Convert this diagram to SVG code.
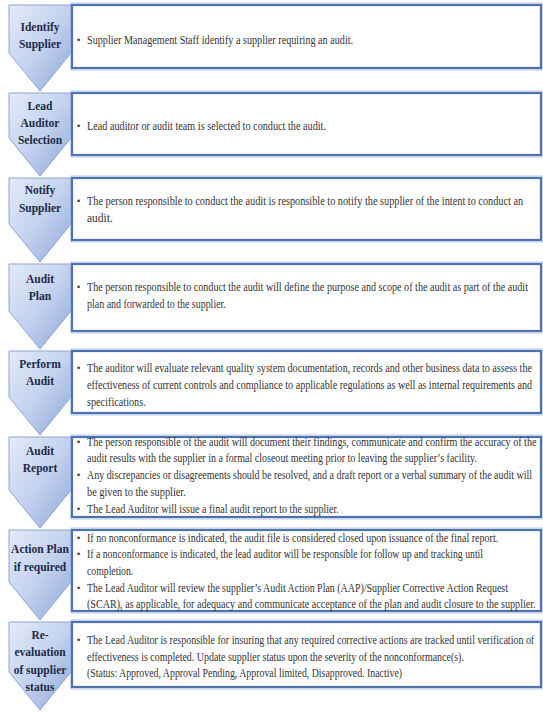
<svg xmlns="http://www.w3.org/2000/svg" width="543" height="713" viewBox="0 0 543 713">
<defs>
<linearGradient id="chev" x1="0" y1="0" x2="1" y2="1">
<stop offset="0" stop-color="#e4ebf8"/>
<stop offset="0.5" stop-color="#c3d2ee"/>
<stop offset="1" stop-color="#8ea8da"/>
</linearGradient>
<style>
.chev{fill:url(#chev);stroke:#8fa5d0;stroke-width:1}
.box{fill:#ffffff;stroke:#4e72b0;stroke-width:2.2}
.boxs{fill:none;stroke:#b4c6e6;stroke-width:1}
.lab{font-family:"Liberation Serif","Times New Roman",serif;font-weight:bold;font-size:11.5px;fill:#1e2a48;text-anchor:middle}
.txt{font-family:"Liberation Serif","Times New Roman",serif;font-size:11.5px;fill:#333333}
.bul{font-family:"Liberation Sans",Arial,sans-serif;font-size:9px;fill:#333333}
</style>
</defs>
<rect width="543" height="713" fill="#ffffff"/>
<g id="connectors"></g>

<g id="step1">
<path class="chev" d="M9,5 H71 V53 L40,91 L9,53 Z"/>
<text class="lab" x="40" y="31">Identify</text>
<text class="lab" x="40" y="48">Supplier</text>
<rect class="boxs" x="71" y="3" width="472" height="67"/>
<rect class="box" x="72" y="5" width="469" height="63"/>
<text class="bul" x="77" y="43">•</text>
<g transform="translate(87,0) scale(0.89,1)">
<text class="txt" x="0" y="44" textLength="299" lengthAdjust="spacingAndGlyphs">Supplier Management Staff identify a supplier requiring an audit.</text>
</g>
</g>

<g id="step2">
<path class="chev" d="M9,93 H71 V138 L40,176 L9,138 Z"/>
<text class="lab" x="40" y="110">Lead</text>
<text class="lab" x="40" y="127">Auditor</text>
<text class="lab" x="40" y="144">Selection</text>
<rect class="boxs" x="71" y="91" width="472" height="66"/>
<rect class="box" x="72" y="93" width="469" height="62"/>
<text class="bul" x="77" y="129">•</text>
<g transform="translate(87,0) scale(0.89,1)">
<text class="txt" x="0" y="130" textLength="268.5" lengthAdjust="spacingAndGlyphs">Lead auditor or audit team is selected to conduct the audit.</text>
</g>
</g>

<g id="step3">
<path class="chev" d="M9,178 H71 V224 L40,262 L9,224 Z"/>
<text class="lab" x="40" y="194">Notify</text>
<text class="lab" x="40" y="212">Supplier</text>
<rect class="boxs" x="71" y="176" width="472" height="66"/>
<rect class="box" x="72" y="178" width="469" height="62"/>
<text class="bul" x="77" y="204">•</text>
<g transform="translate(87,0) scale(0.89,1)">
<text class="txt" x="0" y="205" textLength="490" lengthAdjust="spacingAndGlyphs">The person responsible to conduct the audit is responsible to notify the supplier of the intent to conduct an</text>
<text class="txt" x="0" y="222" textLength="29" lengthAdjust="spacingAndGlyphs">audit.</text>
</g>
</g>

<g id="step4">
<path class="chev" d="M9,264 H71 V311 L40,349 L9,311 Z"/>
<text class="lab" x="40" y="283">Audit</text>
<text class="lab" x="40" y="300">Plan</text>
<rect class="boxs" x="71" y="262" width="472" height="71"/>
<rect class="box" x="72" y="264" width="469" height="67"/>
<text class="bul" x="77" y="290">•</text>
<g transform="translate(87,0) scale(0.89,1)">
<text class="txt" x="0" y="291" textLength="495.5" lengthAdjust="spacingAndGlyphs">The person responsible to conduct the audit will define the purpose and scope of the audit as part of the audit</text>
<text class="txt" x="0" y="308" textLength="156" lengthAdjust="spacingAndGlyphs">plan and forwarded to the supplier.</text>
</g>
</g>

<g id="step5">
<path class="chev" d="M9,351 H71 V397 L40,435 L9,397 Z"/>
<text class="lab" x="40" y="368">Perform</text>
<text class="lab" x="40" y="385">Audit</text>
<rect class="boxs" x="71" y="349" width="472" height="66"/>
<rect class="box" x="72" y="351" width="469" height="62"/>
<text class="bul" x="77" y="371">•</text>
<g transform="translate(87,0) scale(0.89,1)">
<text class="txt" x="0" y="372" textLength="500" lengthAdjust="spacingAndGlyphs">The auditor will evaluate relevant quality system documentation, records and other business data to assess the</text>
<text class="txt" x="0" y="389" textLength="500" lengthAdjust="spacingAndGlyphs">effectiveness of current controls and compliance to applicable regulations as well as internal requirements and</text>
<text class="txt" x="0" y="406" textLength="66" lengthAdjust="spacingAndGlyphs">specifications.</text>
</g>
</g>

<g id="step6">
<path class="chev" d="M9,437 H71 V490 L40,528 L9,490 Z"/>
<text class="lab" x="40" y="455">Audit</text>
<text class="lab" x="40" y="472">Report</text>
<rect class="boxs" x="71" y="435" width="472" height="84"/>
<rect class="box" x="72" y="437" width="469" height="80"/>
<text class="bul" x="77" y="445">•</text>
<text class="bul" x="77" y="478">•</text>
<text class="bul" x="77" y="512">•</text>
<g transform="translate(87,0) scale(0.89,1)">
<text class="txt" x="0" y="446" textLength="505" lengthAdjust="spacingAndGlyphs">The person responsible of the audit will document their findings, communicate and confirm the accuracy of the</text>
<text class="txt" x="0" y="462" textLength="438" lengthAdjust="spacingAndGlyphs">audit results with the supplier in a formal closeout meeting prior to leaving the supplier’s facility.</text>
<text class="txt" x="0" y="479" textLength="500" lengthAdjust="spacingAndGlyphs">Any discrepancies or disagreements should be resolved, and a draft report or a verbal summary of the audit will</text>
<text class="txt" x="0" y="496" textLength="111" lengthAdjust="spacingAndGlyphs">be given to the supplier.</text>
<text class="txt" x="0" y="513" textLength="283" lengthAdjust="spacingAndGlyphs">The Lead Auditor will issue a final audit report to the supplier.</text>
</g>
</g>

<g id="step7">
<path class="chev" d="M9,530 H71 V582 L40,620 L9,582 Z"/>
<text class="lab" x="40" y="553">Action Plan</text>
<text class="lab" x="40" y="571">if required</text>
<rect class="boxs" x="71" y="528" width="472" height="85"/>
<rect class="box" x="72" y="530" width="469" height="81"/>
<text class="bul" x="77" y="541">•</text>
<text class="bul" x="77" y="557">•</text>
<text class="bul" x="77" y="591">•</text>
<g transform="translate(87,0) scale(0.89,1)">
<text class="txt" x="0" y="542" textLength="462" lengthAdjust="spacingAndGlyphs">If no nonconformance is indicated, the audit file is considered closed upon issuance of the final report.</text>
<text class="txt" x="0" y="558" textLength="445" lengthAdjust="spacingAndGlyphs">If a nonconformance is indicated, the lead auditor will be responsible for follow up and tracking until</text>
<text class="txt" x="0" y="575" textLength="52" lengthAdjust="spacingAndGlyphs">completion.</text>
<text class="txt" x="0" y="592" textLength="473" lengthAdjust="spacingAndGlyphs">The Lead Auditor will review the supplier’s Audit Action Plan (AAP)/Supplier Corrective Action Request</text>
<text class="txt" x="0" y="608" textLength="504" lengthAdjust="spacingAndGlyphs">(SCAR), as applicable, for adequacy and communicate acceptance of the plan and audit closure to the supplier.</text>
</g>
</g>

<g id="step8">
<path class="chev" d="M9,622 H71 V672 L40,710 L9,672 Z"/>
<text class="lab" x="40" y="639">Re-</text>
<text class="lab" x="40" y="656">evaluation</text>
<text class="lab" x="40" y="674">of supplier</text>
<text class="lab" x="40" y="691">status</text>
<rect class="boxs" x="71" y="620" width="472" height="69"/>
<rect class="box" x="72" y="622" width="469" height="65"/>
<text class="bul" x="77" y="643">•</text>
<g transform="translate(87,0) scale(0.86,1)">
<text class="txt" x="0" y="644" textLength="520" lengthAdjust="spacingAndGlyphs">The Lead Auditor is responsible for insuring that any required corrective actions are tracked until verification  of</text>
</g>
<g transform="translate(87,0) scale(0.89,1)">
<text class="txt" x="0" y="661" textLength="423.5" lengthAdjust="spacingAndGlyphs">effectiveness is completed. Update supplier status upon the severity of the nonconformance(s).</text>
<text class="txt" x="0" y="677" textLength="354" lengthAdjust="spacingAndGlyphs">(Status: Approved, Approval Pending, Approval limited, Disapproved. Inactive)</text>
</g>
</g>
</svg>
